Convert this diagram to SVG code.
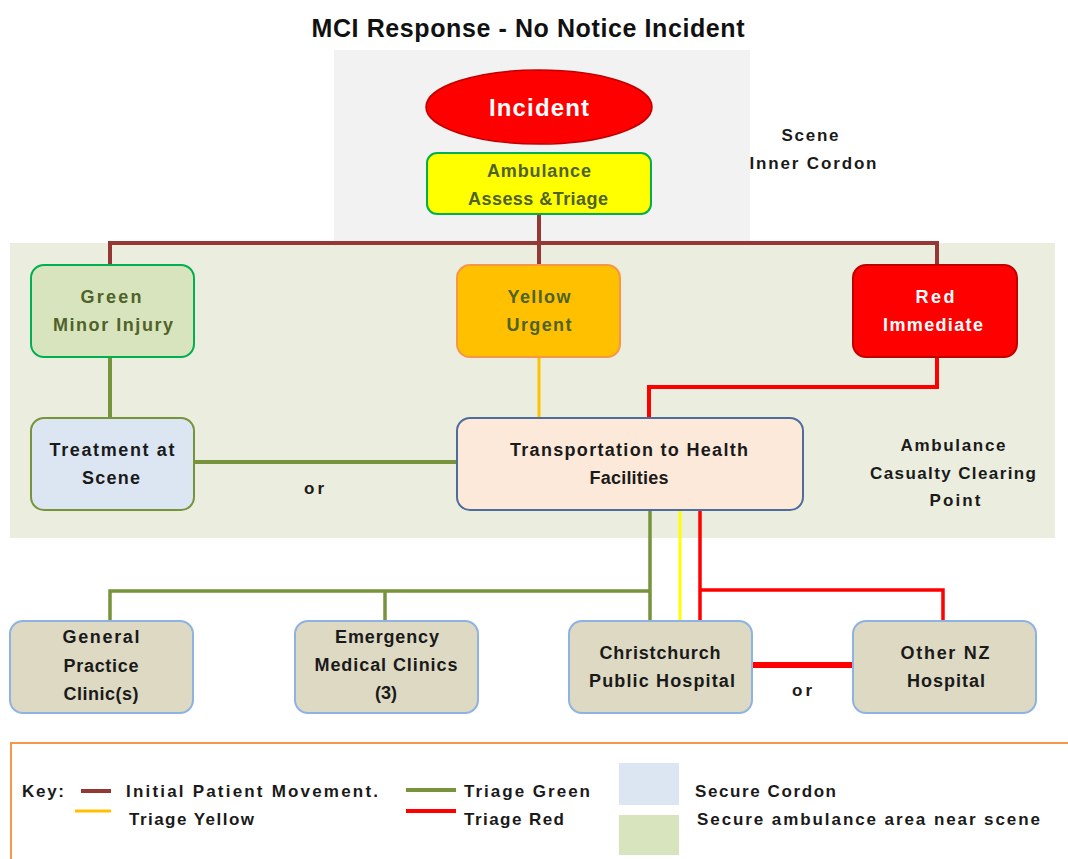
<svg xmlns="http://www.w3.org/2000/svg" width="1068" height="859" viewBox="0 0 1068 859">
<style>
text{font-family:"Liberation Sans",Arial,sans-serif;font-weight:bold;text-anchor:middle}
.lbl{font-size:18px;fill:#1a1a1a}
.olv{font-size:18px;fill:#4f6228}
.wht{font-size:18px;fill:#ffffff}
.side{font-size:17px;fill:#1a1a1a}
.key{font-size:17px;fill:#1a1a1a;text-anchor:start}
.dest{fill:#ddd9c3;stroke:#8db3e2;stroke-width:2}
.brown{stroke:#953735;stroke-width:4;fill:none}
.green{stroke:#77933c;stroke-width:4;fill:none}
.yellow{stroke:#ffc000;stroke-width:3;fill:none}
.red{stroke:#ff0000;stroke-width:4;fill:none}
</style>
<rect width="1068" height="859" fill="#ffffff"/>
<text x="528" y="37" style="font-size:25px;fill:#111" textLength="433" lengthAdjust="spacing">MCI Response - No Notice Incident</text>
<rect id="inner-cordon-area" x="334" y="50" width="416" height="192" fill="#f2f2f2"/>
<rect id="ambulance-area" x="10" y="243" width="1045" height="295" fill="#ebeddf"/>
<g id="label-scene"><text class="side" x="810" y="141" textLength="57" lengthAdjust="spacing">Scene</text><text class="side" x="813" y="169" textLength="127" lengthAdjust="spacing">Inner Cordon</text></g>
<g id="label-ccp"><text class="side" x="953" y="451" textLength="105" lengthAdjust="spacing">Ambulance</text><text class="side" x="953" y="479" textLength="166" lengthAdjust="spacing">Casualty Clearing</text><text class="side" x="955" y="506" textLength="51" lengthAdjust="spacing">Point</text></g>
<g id="connectors">
<path class="brown" d="M539 214V243M110 265V243H937V265M539 243V265"/>
<path class="green" d="M110 357V418"/>
<path class="yellow" d="M539 357V418"/>
<path class="red" d="M937 357V387H649V418"/>
<path class="green" d="M194 462H457"/>
<path class="green" d="M650 510V621M110 621V591H650M385 591V621" style="stroke-width:3.5"/>
<path class="yellow" d="M680 510V621" style="stroke:#ffff00"/>
<path class="red" d="M700 510V621M700 590H943V621" style="stroke-width:3.5"/>
<path d="M752 665H853" stroke="#ff0000" stroke-width="6"/>
</g>
<text class="side" x="314" y="494" textLength="20" lengthAdjust="spacing">or</text>
<text class="side" x="802" y="696" textLength="20" lengthAdjust="spacing">or</text>
<g id="incident"><ellipse cx="539" cy="107" rx="113" ry="37" fill="#ff0000" stroke="#c00000" stroke-width="1.5"/><text x="539" y="116" style="font-size:24px;fill:#fff" textLength="100" lengthAdjust="spacing">Incident</text></g>
<g id="ambulance-triage"><rect x="427" y="153" width="224" height="61" rx="10" fill="#ffff00" stroke="#00b050" stroke-width="2"/><text class="olv" x="539" y="177" textLength="104" lengthAdjust="spacing">Ambulance</text><text class="olv" x="538" y="205" textLength="140" lengthAdjust="spacing">Assess &amp;Triage</text></g>
<g id="green-minor"><rect x="31" y="265" width="163" height="92" rx="13" fill="#d7e4bd" stroke="#00b050" stroke-width="2"/><text class="olv" x="111" y="303" textLength="61" lengthAdjust="spacing">Green</text><text class="olv" x="113" y="331" textLength="120" lengthAdjust="spacing">Minor Injury</text></g>
<g id="yellow-urgent"><rect x="457" y="265" width="163" height="92" rx="13" fill="#ffc000" stroke="#f79646" stroke-width="2"/><text class="olv" x="539" y="303" textLength="63" lengthAdjust="spacing">Yellow</text><text class="olv" x="539" y="331" textLength="65" lengthAdjust="spacing">Urgent</text></g>
<g id="red-immediate"><rect x="853" y="265" width="164" height="92" rx="13" fill="#ff0000" stroke="#c00000" stroke-width="2"/><text class="wht" x="935" y="303" textLength="39" lengthAdjust="spacing">Red</text><text class="wht" x="933" y="331" textLength="100" lengthAdjust="spacing">Immediate</text></g>
<g id="treatment"><rect x="31" y="418" width="163" height="92" rx="13" fill="#dce6f2" stroke="#77933c" stroke-width="2"/><text class="lbl" x="112" y="456" textLength="125" lengthAdjust="spacing">Treatment at</text><text class="lbl" x="111" y="484" textLength="58" lengthAdjust="spacing">Scene</text></g>
<g id="transportation"><rect x="457" y="418" width="346" height="92" rx="13" fill="#fde9d9" stroke="#4f6d9b" stroke-width="2"/><text class="lbl" x="629" y="456" textLength="238" lengthAdjust="spacing">Transportation to Health</text><text class="lbl" x="629" y="484" textLength="79" lengthAdjust="spacing">Facilities</text></g>
<g id="gp"><rect class="dest" x="10" y="621" width="183" height="92" rx="13"/><text class="lbl" x="101" y="643" textLength="77" lengthAdjust="spacing">General</text><text class="lbl" x="101" y="672" textLength="75" lengthAdjust="spacing">Practice</text><text class="lbl" x="101" y="700" textLength="75" lengthAdjust="spacing">Clinic(s)</text></g>
<g id="emc"><rect class="dest" x="295" y="621" width="183" height="92" rx="13"/><text class="lbl" x="387" y="643" textLength="104" lengthAdjust="spacing">Emergency</text><text class="lbl" x="386" y="671" textLength="143" lengthAdjust="spacing">Medical Clinics</text><text class="lbl" x="386" y="699">(3)</text></g>
<g id="chch"><rect class="dest" x="569" y="621" width="183" height="92" rx="13"/><text class="lbl" x="660" y="659" textLength="121" lengthAdjust="spacing">Christchurch</text><text class="lbl" x="662" y="687" textLength="146" lengthAdjust="spacing">Public Hospital</text></g>
<g id="other-nz"><rect class="dest" x="853" y="621" width="183" height="92" rx="13"/><text class="lbl" x="945" y="659" textLength="89" lengthAdjust="spacing">Other NZ</text><text class="lbl" x="946" y="687" textLength="78" lengthAdjust="spacing">Hospital</text></g>
<g id="key">
<rect x="11" y="743" width="1070" height="130" fill="#ffffff" stroke="#f79646" stroke-width="2"/>
<text class="key" x="22" y="797" textLength="42" lengthAdjust="spacing">Key:</text>
<line x1="81" y1="791" x2="111" y2="791" stroke="#953735" stroke-width="4"/>
<text class="key" x="126" y="797" textLength="252" lengthAdjust="spacing">Initial Patient Movement.</text>
<line x1="75" y1="811" x2="111" y2="811" stroke="#ffc000" stroke-width="3"/>
<text class="key" x="129" y="825" textLength="125" lengthAdjust="spacing">Triage Yellow</text>
<line x1="406" y1="790" x2="456" y2="790" stroke="#77933c" stroke-width="4"/>
<text class="key" x="464" y="797" textLength="126" lengthAdjust="spacing">Triage Green</text>
<line x1="406" y1="811" x2="456" y2="811" stroke="#ff0000" stroke-width="4"/>
<text class="key" x="464" y="825" textLength="100" lengthAdjust="spacing">Triage Red</text>
<rect x="619" y="763" width="60" height="42" fill="#dce6f2"/>
<text class="key" x="695" y="797" textLength="141" lengthAdjust="spacing">Secure Cordon</text>
<rect x="619" y="815" width="60" height="40" fill="#d7e4bd"/>
<text class="key" x="697" y="825" textLength="343" lengthAdjust="spacing">Secure ambulance area near scene</text>
</g>
</svg>
